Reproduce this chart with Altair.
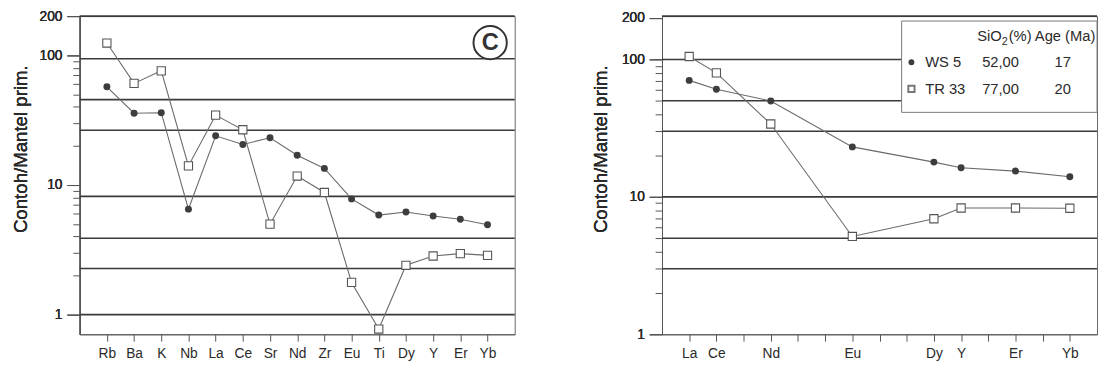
import altair as alt
import pandas as pd

# ---------------- data ----------------
left_elements = ["Rb", "Ba", "K", "Nb", "La", "Ce", "Sr", "Nd", "Zr", "Eu", "Ti", "Dy", "Y", "Er", "Yb"]
left_positions = list(range(15))
left_ws5 = [57, 35.7, 36, 6.5, 23.9, 20.5, 23.1, 16.9, 13.4, 7.8, 5.85, 6.17, 5.75, 5.43, 4.92]
left_tr33 = [124, 60.6, 75.7, 14.0, 34.5, 26.6, 4.98, 11.7, 8.74, 1.77, 0.774, 2.40, 2.83, 2.95, 2.86]

right_elements = ["La", "Ce", "Nd", "Eu", "Dy", "Y", "Er", "Yb"]
right_positions = [0, 1, 3, 6, 9, 10, 12, 14]
right_ws5 = [70.4, 60.7, 49.9, 23.1, 17.9, 16.3, 15.4, 14.0]
right_tr33 = [105, 79.8, 33.9, 5.15, 6.93, 8.30, 8.30, 8.26]

left_grid = [200, 93.7, 45.4, 26.4, 8.15, 3.88, 2.27, 1.0]
right_grid = [206.6, 100, 50, 30, 10, 5, 3]
left_ydomain = [0.705, 200]
right_ydomain = [1, 206.6]

y_minor = [2, 3, 4, 5, 6, 7, 8, 9, 20, 30, 40, 50, 60, 70, 80, 90]
y_major = [1, 10, 100, 200]
x_ticks = list(range(15))

samples = ["WS 5", "TR 33"]
legend_sio2 = ["52,00", "77,00"]
legend_age = ["17", "20"]
panel_label = "C"
y_title = "Contoh/Mantel prim."

FONT = "Liberation Sans"
W, H = 443, 324
GRID_COLOR = "#3a3a3a"
LINE_COLOR = "#6a6a6a"
TEXT_COLOR = "#2a2a2a"


def label_expr(elements, positions):
    labels = [""] * 15
    for e, p in zip(elements, positions):
        labels[p] = e
    return "[" + ",".join("'%s'" % l for l in labels) + "][datum.value]"


def text_layer(t, x, y, size=14, align="left", baseline="middle", weight="normal", color=TEXT_COLOR):
    return alt.Chart(pd.DataFrame({"t": [t]})).mark_text(
        font=FONT, fontSize=size, align=align, baseline=baseline, fontWeight=weight, color=color
    ).encode(x=alt.value(x), y=alt.value(y), text="t:N")


def panel(elements, positions, ws5, tr33, grid, ydomain, title_x):
    n = len(elements)
    df = pd.DataFrame({
        "pos": positions * 2,
        "elem": elements * 2,
        "val": ws5 + tr33,
        "sample": [samples[0]] * n + [samples[1]] * n,
    })
    xscale = alt.Scale(domain=[-1, 15], nice=False, zero=False)
    yscale = alt.Scale(type="log", domain=ydomain, nice=False)
    xaxis = alt.Axis(values=x_ticks, labelExpr=label_expr(elements, positions), title=None,
                     grid=False, tickSize=7, tickColor="#555", domainColor="#555",
                     labelFont=FONT, labelFontSize=14, labelColor=TEXT_COLOR, labelPadding=6)
    minor_axis = alt.Axis(values=y_minor, orient="left", labels=False, title=None, grid=False,
                          tickSize=7, tickColor="#555", domainColor="#555")
    major_axis = alt.Axis(values=y_major, orient="left", format="d", grid=False,
                          tickSize=13, tickColor="#555", domainColor="#555",
                          labelFont=FONT, labelFontSize=14, labelColor=TEXT_COLOR, labelPadding=5,
                          title=y_title, titleFont=FONT, titleFontSize=19, titleFontWeight="normal",
                          titleColor=TEXT_COLOR, titleX=title_x, titleY=135, titleAngle=270,
                          titleAlign="center", titleBaseline="alphabetic")
    x = alt.X("pos:Q", scale=xscale, axis=xaxis)
    y_minor_enc = alt.Y("val:Q", scale=yscale, axis=minor_axis)
    y = alt.Y("val:Q", scale=yscale, axis=major_axis)

    gdf = pd.DataFrame({"val": grid})
    rules = alt.Chart(gdf).mark_rule(color=GRID_COLOR, strokeWidth=1.6).encode(y=y_minor_enc)
    base = alt.Chart(df)
    lines = base.mark_line(color=LINE_COLOR, strokeWidth=1.1).encode(x=x, y=y, detail="sample:N")
    circles = base.transform_filter(alt.datum.sample == samples[0]).mark_point(
        shape="circle", filled=True, size=50, color="#3d3d3d", opacity=1).encode(x=x, y=y)
    squares = base.transform_filter(alt.datum.sample == samples[1]).mark_point(
        shape="square", filled=True, fill="white", stroke="#555", strokeWidth=1.1, size=70,
        opacity=1).encode(x=x, y=y)
    return [rules, lines, circles, squares]


left_layers = panel(left_elements, left_positions, left_ws5, left_tr33, left_grid, left_ydomain, -54)
circ = alt.Chart(pd.DataFrame({"t": [panel_label]})).mark_point(
    shape="circle", size=1150, filled=True, fill="white", stroke="#333", strokeWidth=2, opacity=1
).encode(x=alt.value(418), y=alt.value(27))
left = alt.layer(*left_layers, circ,
                 text_layer(panel_label, 418, 28, size=24, align="center", weight="bold", color="#333")
                 ).resolve_axis(y="independent").resolve_scale(y="shared").properties(width=W, height=H)

right_layers = panel(right_elements, right_positions, right_ws5, right_tr33, right_grid, right_ydomain, -57)
box = alt.Chart(pd.DataFrame({"t": ["box"]})).mark_rect(
    fill="white", stroke="#777", strokeWidth=1).encode(
    x=alt.value(244), x2=alt.value(443), y=alt.value(5), y2=alt.value(98))
leg_pts = [
    alt.Chart(pd.DataFrame({"t": [samples[0]]})).mark_point(
        shape="circle", filled=True, size=36, color="#3d3d3d", opacity=1).encode(x=alt.value(254), y=alt.value(47)),
    alt.Chart(pd.DataFrame({"t": [samples[1]]})).mark_point(
        shape="square", filled=True, fill="white", stroke="#777", size=40, opacity=1).encode(x=alt.value(254), y=alt.value(74)),
]
leg_text = [
    text_layer("SiO", 321, 20, size=15),
    text_layer("2", 346, 26, size=11),
    text_layer("(%) Age (Ma)", 353, 20, size=15),
    text_layer(samples[0], 268, 47, size=15),
    text_layer(samples[1], 268, 74, size=15),
    text_layer(legend_sio2[0], 326, 47, size=15),
    text_layer(legend_sio2[1], 326, 74, size=15),
    text_layer(legend_age[0], 408, 47, align="center", size=15),
    text_layer(legend_age[1], 408, 74, align="center", size=15),
]
right = alt.layer(*right_layers, box, *leg_pts, *leg_text).resolve_axis(
    y="independent").resolve_scale(y="shared").properties(width=W, height=H)

chart = alt.hconcat(left, right, spacing=75).configure_view(
    stroke="#666", strokeWidth=1
).properties(padding={"left": 3, "top": -3, "right": 0, "bottom": 0}, background="white")

chart.save("out.html", embed_options={"renderer": "svg", "actions": False})
